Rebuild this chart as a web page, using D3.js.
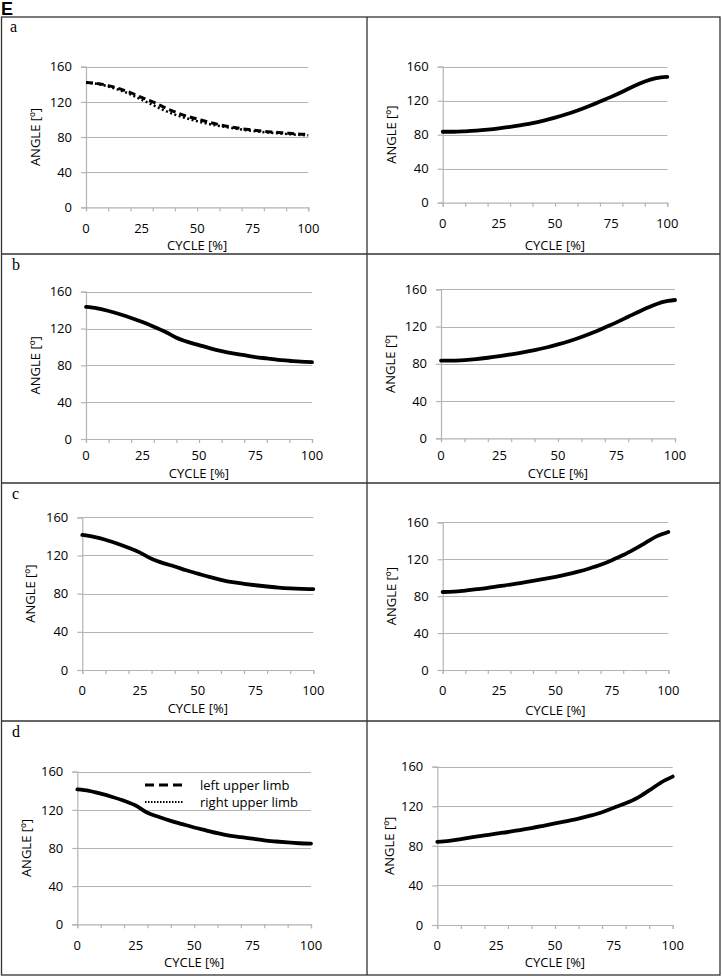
<!DOCTYPE html>
<html>
<head>
<meta charset="utf-8">
<script src="https://cdn.jsdelivr.net/npm/d3@7"></script>
<style>
body { margin: 0; background: #fff; }
</style>
</head>
<body>
<script>
// cycle positions, every 5 %
var cycle = [0,5,10,15,20,25,30,35,40,45,50,55,60,65,70,75,80,85,90,95,100];

// panel a, left column: left limb (dashed) and right limb (dotted)
var aLeftL = [142,141,138.5,135,130.5,125,120,114,108.5,104,100.5,97,94,91.5,89.5,88,86.5,85.5,84.5,83.5,83];
var aLeftR = [142,140.5,137.5,133.5,128.5,122.5,116.5,110.5,105.5,101.5,98,95,92.5,90.5,88.5,87,85.5,84.5,83.5,82.5,82];
// the other panels: one line each
var aRight = [83.5,83.5,84,84.8,86,87.5,89.3,91.3,93.5,96.5,100,104,108.5,113.5,119,124.5,130.5,137,142.5,146.5,148];
var bLeft  = [143.5,142,139,135.5,131.5,127,122,116.5,110,105.5,102,98.5,95.5,93,91,89,87.5,86,85,84,83.5];
var bRight = [83.5,83.5,84,85,86.5,88.3,90.2,92.3,94.7,97.5,100.8,104.5,108.7,113.5,119,124.5,130.5,136.5,142,146.5,148.5];
var cLeft  = [141.5,139.5,136.5,132.5,128,123,116.5,112,108.5,104.5,101,97.5,94.5,92,90.3,88.8,87.5,86.3,85.5,85,84.8];
var cRight = [84.5,84.8,86,87.5,89,90.8,92.5,94.5,96.5,98.7,101,103.5,106.5,110,114,119,124.5,131,138,145,149.5];
var dLeft  = [141.5,140,137,133.5,129.5,124.5,117,112.5,108.5,105,101.5,98.5,95.5,93,91.3,89.8,88,86.8,85.8,85,84.5];
var dRight = [84,85,86.8,88.7,90.5,92.3,94,96,98,100.3,102.7,105,107.5,110.5,114,118.5,123,128.5,136,144,150];

var yTicks = [0,40,80,120,160];
var xMinor = [0,10,20,30,40,50,60,70,80,90,100];
var xLabels = [0,25,50,75,100];
var panelNames = ["a","b","c","d"];
var legendNames = ["left upper limb","right upper limb"];

var w = 722;
var h = 976;
var font = "'Open Sans', sans-serif";
var fs = "13px";
var grid = "#b4b4b4";

// plot boxes: x0,x1 = 0..100 %, yt = 160, yb = 0
var panels = [
  {x0:86,    x1:308.3, yt:66.7,  yb:207.3, ty:228, cy:245, ax:35,    series:[aLeftL, aLeftR], styles:["dash","dot"]},
  {x0:442.7, x1:667.3, yt:66.7,  yb:202.7, ty:223, cy:245, ax:391.7, series:[aRight], styles:["solid"]},
  {x0:86,    x1:312,   yt:291.7, yb:439,   ty:455, cy:473.5, ax:35,  series:[bLeft], styles:["solid"]},
  {x0:441,   x1:675,   yt:289.3, yb:438.3, ty:455, cy:473.5, ax:390, series:[bRight], styles:["solid"]},
  {x0:82.3,  x1:313.3, yt:517.3, yb:670,   ty:690, cy:708, ax:30,    series:[cLeft], styles:["solid"]},
  {x0:442.7, x1:668.3, yt:522.3, yb:670,   ty:690, cy:710, ax:391.7, series:[cRight], styles:["solid"]},
  {x0:77.3,  x1:311,   yt:771.7, yb:924.3, ty:945, cy:962, ax:26.7,  series:[dLeft], styles:["solid"]},
  {x0:437.3, x1:672.7, yt:766.7, yb:925,   ty:945, cy:962, ax:389.3, series:[dRight], styles:["solid"]}
];

var svg = d3.select("body")
  .append("svg")
  .attr("width", w)
  .attr("height", h);

// "E" label
svg.append("text")
  .attr("x", 1)
  .attr("y", 15)
  .attr("font-family", "'Liberation Sans', Arial, sans-serif")
  .attr("font-weight", "bold")
  .attr("font-size", "18px")
  .text("E");

// frame
var rows = [17, 254, 483, 721, 975];
var colX = [1.5, 367, 720];
svg.append("rect")
  .attr("x", colX[0]).attr("y", rows[0])
  .attr("width", colX[2] - colX[0]).attr("height", rows[4] - rows[0])
  .attr("fill", "none").attr("stroke", "#333").attr("stroke-width", 1.3);
for (var i = 1; i < rows.length - 1; i++) {
  svg.append("line")
    .attr("x1", colX[0]).attr("x2", colX[2])
    .attr("y1", rows[i]).attr("y2", rows[i])
    .attr("stroke", "#333").attr("stroke-width", 1.3);
}
svg.append("line")
  .attr("x1", colX[1]).attr("x2", colX[1])
  .attr("y1", rows[0]).attr("y2", rows[4])
  .attr("stroke", "#333").attr("stroke-width", 1.3);

// row letters
svg.selectAll("text.letter")
  .data(panelNames)
  .enter()
  .append("text")
  .attr("class", "letter")
  .attr("x", function(d, i) { return i == 0 ? 10 : 12; })
  .attr("y", function(d, i) { return [28, 266, 495, 733][i] + 4; })
  .attr("font-family", "'Liberation Serif', 'Times New Roman', serif")
  .attr("font-size", "16px")
  .text(function(d) { return d; });

panels.forEach(function(p) {
  var x = d3.scaleLinear().domain([0, 100]).range([p.x0, p.x1]);
  var y = d3.scaleLinear().domain([0, 160]).range([p.yb, p.yt]);
  var g = svg.append("g");

  // gridlines
  g.selectAll("line.grid")
    .data(yTicks.slice(1))
    .enter()
    .append("line")
    .attr("x1", p.x0).attr("x2", p.x1)
    .attr("y1", function(d) { return Math.round(y(d)) + 0.5; })
    .attr("y2", function(d) { return Math.round(y(d)) + 0.5; })
    .attr("stroke", grid).attr("stroke-width", 1.2);

  // y axis
  var ya = g.append("g")
    .attr("transform", "translate(" + p.x0 + ",0)")
    .call(d3.axisLeft(y).tickValues(yTicks).tickSize(5).tickPadding(9));
  ya.select(".domain").attr("stroke", grid).attr("stroke-width", 1.2);
  ya.selectAll(".tick line").attr("stroke", grid).attr("stroke-width", 1.2);
  ya.selectAll(".tick text")
    .attr("font-family", font).attr("font-size", fs).attr("fill", "#000");

  // x axis (minor ticks every 10 %)
  var xa = g.append("g")
    .attr("transform", "translate(0," + p.yb + ")")
    .call(d3.axisBottom(x).tickValues(xMinor).tickSize(4).tickFormat(""));
  xa.select(".domain").attr("stroke", grid).attr("stroke-width", 1.2);
  xa.selectAll(".tick line").attr("stroke", grid).attr("stroke-width", 1.2);

  g.selectAll("text.xl")
    .data(xLabels)
    .enter()
    .append("text")
    .attr("class", "xl")
    .attr("x", function(d) { return x(d); })
    .attr("y", p.ty + 4.5)
    .attr("text-anchor", "middle")
    .attr("font-family", font).attr("font-size", fs).attr("fill", "#000")
    .text(function(d) { return d; });

  g.append("text")
    .attr("x", (p.x0 + p.x1) / 2)
    .attr("y", p.cy + 4.5)
    .attr("text-anchor", "middle")
    .attr("font-family", font).attr("font-size", fs).attr("fill", "#000")
    .text("CYCLE [%]");

  g.append("text")
    .attr("transform", "translate(" + (p.ax + 4.5) + "," + ((p.yt + p.yb) / 2) + ") rotate(-90)")
    .attr("text-anchor", "middle")
    .attr("font-family", font).attr("font-size", fs).attr("fill", "#000")
    .text("ANGLE [º]");

  var line = d3.line()
    .x(function(d, i) { return x(cycle[i]); })
    .y(function(d) { return y(d); })
    .curve(d3.curveMonotoneX);

  p.series.forEach(function(s, k) {
    var st = p.styles[k];
    var path = g.append("path")
      .datum(s)
      .attr("d", line)
      .attr("fill", "none")
      .attr("stroke", "#000");
    if (st == "solid") {
      path.attr("stroke-width", 3.8).attr("stroke-linecap", "round");
    } else if (st == "dash") {
      path.attr("stroke-width", 3).attr("stroke-dasharray", "7,4");
    } else {
      path.attr("stroke-width", 2.5).attr("stroke-dasharray", "2,2.5");
    }
  });
});

// legend in panel d
var lg = svg.append("g");
lg.selectAll("line")
  .data(legendNames)
  .enter()
  .append("line")
  .attr("x1", 145).attr("x2", 183)
  .attr("y1", function(d, i) { return i == 0 ? 785 : 802; })
  .attr("y2", function(d, i) { return i == 0 ? 785 : 802; })
  .attr("stroke", "#000")
  .attr("stroke-width", function(d, i) { return i == 0 ? 3 : 2; })
  .attr("stroke-dasharray", function(d, i) { return i == 0 ? "9,5" : "1.5,1.5"; });
lg.selectAll("text")
  .data(legendNames)
  .enter()
  .append("text")
  .attr("x", 200)
  .attr("y", function(d, i) { return (i == 0 ? 785 : 802) + 4.5; })
  .attr("font-family", font).attr("font-size", fs).attr("fill", "#000")
  .text(function(d) { return d; });
</script>
</body>
</html>
